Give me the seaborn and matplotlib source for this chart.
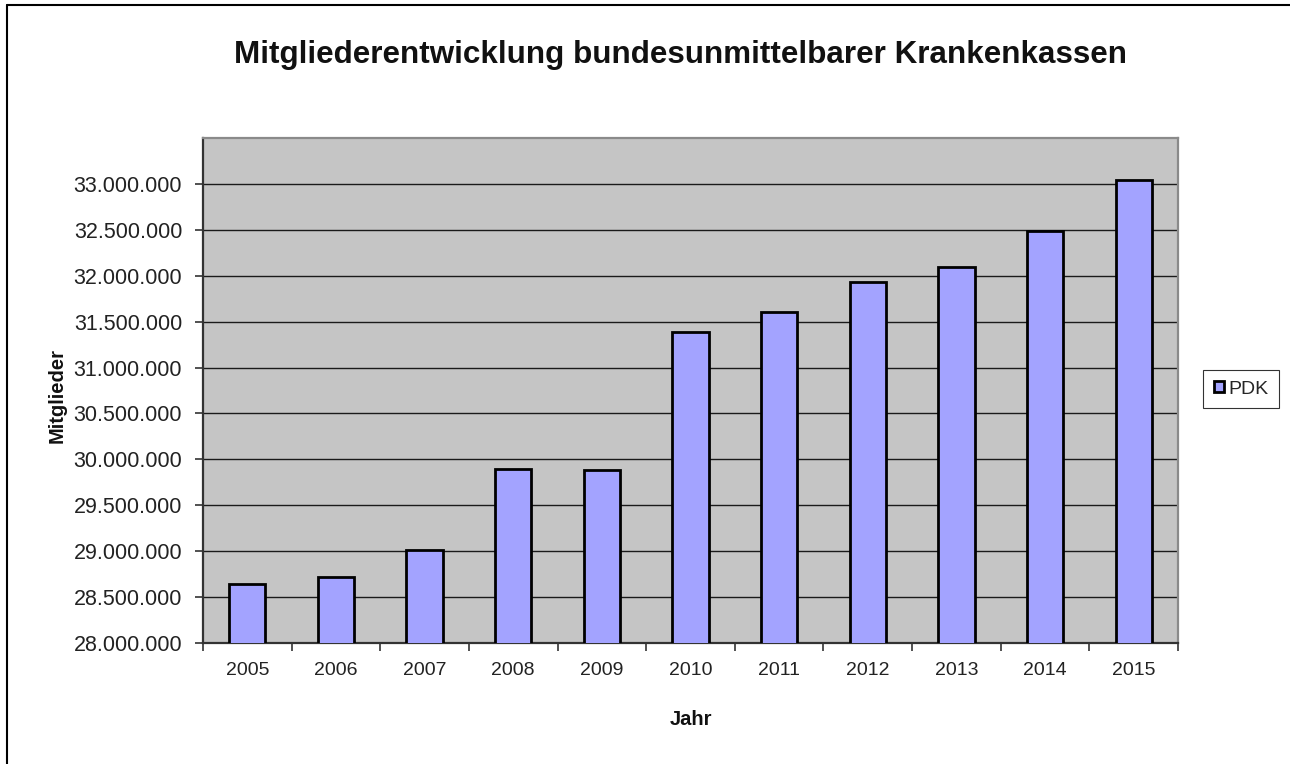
import matplotlib
matplotlib.use("Agg")
import matplotlib.pyplot as plt
import matplotlib.ticker as mticker
from matplotlib.lines import Line2D
import pandas as pd
import seaborn as sns

# Daten (Mitglieder)
jahre = ["2005", "2006", "2007", "2008", "2009", "2010",
         "2011", "2012", "2013", "2014", "2015"]
mitglieder = [28640000, 28720000, 29010000, 29900000, 29880000, 31390000,
              31600000, 31930000, 32090000, 32490000, 33040000]
serie = "PDK"
y_ticks = [28000000, 28500000, 29000000, 29500000, 30000000, 30500000,
           31000000, 31500000, 32000000, 32500000, 33000000]

df = pd.DataFrame({"Jahr": jahre, "Mitglieder": mitglieder})

sns.set_theme(style="white")
plt.rcParams["font.family"] = ["Liberation Sans", "DejaVu Sans"]

W, H = 1290, 764
fig = plt.figure(figsize=(W / 100, H / 100), dpi=100)
fig.patch.set_facecolor("white")

# Plotbereich in Pixeln: links 203, rechts 1178, oben 138, unten 643
ax = fig.add_axes([203 / W, (H - 643) / H, 975 / W, 505 / H])
ax.set_facecolor("#C5C5C5")

sns.barplot(data=df, x="Jahr", y="Mitglieder", color="#A3A3FF",
            width=0.41, edgecolor="black", linewidth=2.0,
            saturation=1, label=serie, ax=ax, zorder=3)

ax.set_ylim(28000000, 33500000)
ax.set_xlim(-0.5, len(jahre) - 0.5)
ax.set_yticks(y_ticks)
ax.yaxis.set_major_formatter(
    mticker.FuncFormatter(lambda v, p: f"{v:,.0f}".replace(",", ".")))
ax.yaxis.grid(True, color="#1a1a1a", linewidth=1.0, zorder=1)
ax.set_axisbelow(True)

# Ticks zwischen den Kategorien wie in Excel
ax.set_xticks(range(len(jahre)))
ax.set_xticks([i - 0.5 for i in range(len(jahre) + 1)], minor=True)
ax.tick_params(axis="x", which="major", length=0, pad=14,
               labelsize=14, labelcolor="#222222")
ax.tick_params(axis="x", which="minor", length=6, width=1.2,
               color="#333333", direction="out", bottom=True)
ax.tick_params(axis="y", length=6, width=1.2, color="#333333",
               direction="out", left=True, pad=9,
               labelsize=15.5, labelcolor="#222222")

for s in ["left", "bottom"]:
    ax.spines[s].set_color("#333333")
    ax.spines[s].set_linewidth(1.6)
for s in ["top", "right"]:
    ax.spines[s].set_color("#8a8a8a")
    ax.spines[s].set_linewidth(1.6)

ax.set_xlabel("Jahr", fontsize=14.5, fontweight="bold", color="#111111")
ax.set_ylabel("Mitglieder", fontsize=14.5, fontweight="bold", color="#111111")
ax.xaxis.set_label_coords(0.5, -0.133)
ax.yaxis.set_label_coords(-0.140, 0.49)

fig.text(680 / W, 1 - 55 / H,
         "Mitgliederentwicklung bundesunmittelbarer Krankenkassen",
         ha="center", va="center", fontsize=22.6, fontweight="bold",
         color="#111111")

leg = ax.legend(loc="center left", bbox_to_anchor=(1203 / W, 1 - 389 / H),
                bbox_transform=fig.transFigure, frameon=True,
                fancybox=False, fontsize=14, handlelength=0.55,
                handleheight=0.55, handletextpad=0.2, borderpad=0.55,
                borderaxespad=0)
leg.get_frame().set_edgecolor("black")
leg.get_frame().set_linewidth(0.8)

# Rahmen links und oben
fig.add_artist(Line2D([6.5 / W, 6.5 / W], [0, 1 - 5 / H],
                      color="black", linewidth=1.5))
fig.add_artist(Line2D([6.5 / W, 1], [1 - 5 / H, 1 - 5 / H],
                      color="black", linewidth=1.5))

plt.savefig("out.png", dpi=100)
plt.close()
